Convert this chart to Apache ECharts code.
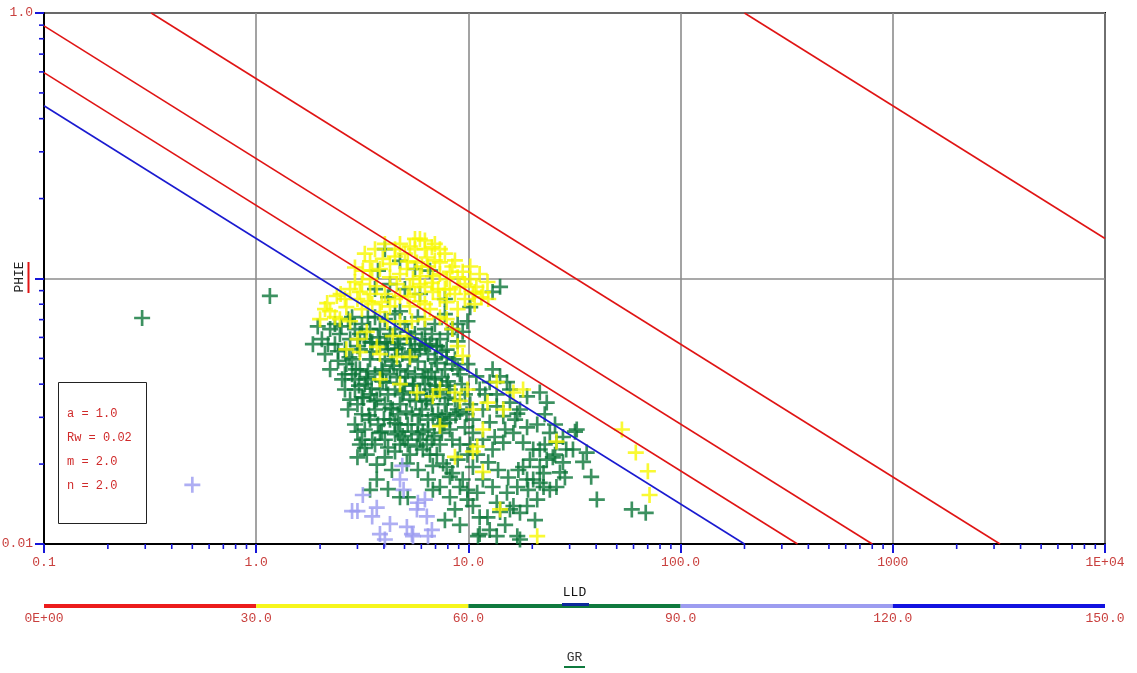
<!DOCTYPE html>
<html>
<head>
<meta charset="utf-8">
<title>Pickett plot – PHIE vs LLD</title>
<script src="https://cdn.jsdelivr.net/npm/echarts@6/dist/echarts.min.js"></script>
<style>
  html, body { margin: 0; padding: 0; background: #fff; }
  #chart { width: 1137px; height: 673px; }
</style>
</head>
<body>
<div id="chart"></div>
<script>
// Archie parameters shown in the parameter box
const paramNames = ['a', 'Rw', 'm', 'n'];
const paramValues = [1.0, 0.02, 2.0, 2.0];

// Water saturation lines (Sw = 1 drawn in blue)
const swValues = [1.0, 0.75, 0.5, 0.25, 0.01];

// Axis ticks and labels
const lldTicks = [0.1, 1, 10, 100, 1000, 10000];
const lldTickLabels = ['0.1', '1.0', '10.0', '100.0', '1000', '1E+04'];
const phieTicks = [0.01, 0.1, 1];
const phieTickLabels = ['0.01', '', '1.0'];
const phieTitle = 'PHIE';

// GR colour scale
const grBreaks = [0, 30, 60, 90, 120, 150];
const grTickLabels = ['0E+00', '30.0', '60.0', '90.0', '120.0', '150.0'];
const grColors = ['#ec1c1c', '#f6f61c', '#0f7a3e', '#9c9cf0', '#1212e0'];

// Samples [LLD, PHIE], grouped by GR class
// GR 60 - 90
const gr60to90 = [
  [0.29,0.071],[1.16,0.086],
  [4.04,0.129],[4.76,0.1165],[3.75,0.107],[4.27,0.0953],[4.18,0.085],[4.76,0.0753],[5.91,0.0874],[6.59,0.107],
  [7.75,0.0837],[7.75,0.0734],[14.1,0.093],[13.0,0.089],[10.2,0.078],[9.9,0.069],[9.4,0.063],[8.9,0.058],
  [7.9,0.054],[8.4,0.0645],[5.6,0.1086],[5.02,0.0912],[3.63,0.0912],
  [1.95,0.066],[1.85,0.0566],[2.04,0.0591],[2.23,0.0645],[2.35,0.0566],[2.11,0.0519],[2.48,0.0618],[2.62,0.0541],
  [2.43,0.049],[2.77,0.0591],[2.92,0.0645],[2.83,0.0496],[2.23,0.0455],[2.62,0.0436],[3.08,0.0541],[3.25,0.0591],
  [3.44,0.0645],[3.63,0.0715],[3.83,0.0645],[3.08,0.0455],[3.44,0.0496],[3.83,0.0566],[4.04,0.0496],[4.27,0.0618],
  [4.51,0.0541],[4.76,0.0591],[5.02,0.0674],[5.30,0.0566],[5.60,0.0618],[5.91,0.0541],[6.24,0.0645],[6.59,0.0566],
  [6.95,0.0496],[7.34,0.0591],[5.30,0.0496],[4.76,0.0455],[4.27,0.0436],[3.63,0.0436],[3.25,0.0400],[2.92,0.0382],
  [2.62,0.0382],[3.0,0.0336],[3.44,0.0366],[3.83,0.0382],[4.51,0.0382],[5.02,0.0400],[5.60,0.0436],[6.24,0.0455],
  [6.95,0.0417],[7.75,0.0455],[8.64,0.0496],[9.12,0.0436],[8.18,0.0382],[7.34,0.0366],[6.59,0.0382],[5.91,0.0366],
  [5.30,0.0350],[4.76,0.0336],[4.04,0.0336],[3.63,0.0321],[3.15,0.0308],[2.92,0.0282],[3.25,0.0270],[3.75,0.0282],
  [4.27,0.0294],[4.76,0.0282],[5.42,0.0308],[6.04,0.0321],[6.73,0.0336],[7.75,0.0336],[8.64,0.0350],[9.63,0.0366],
  [10.2,0.0336],[11.3,0.0382],[12.6,0.0407],[14.1,0.0428],[13.0,0.0455],[15.2,0.0407],[17.5,0.0321],[15.7,0.0341],
  [13.6,0.033],[11.7,0.0321],[21.7,0.0372],[23.4,0.0341],[18.9,0.036],
  [2.71,0.0703],[3.15,0.0674],[4.04,0.0703],[4.51,0.0734],[5.78,0.0715],[6.95,0.0674],[8.0,0.0618],[8.9,0.0674],
  [2.54,0.0417],[2.83,0.0436],[3.36,0.0447],[3.95,0.041],[4.36,0.0487],[5.18,0.0447],[5.78,0.0487],[6.45,0.0519],
  [7.5,0.053],[8.4,0.0476],[9.9,0.0476],[9.3,0.04],[8.0,0.041],[6.24,0.04],[7.2,0.0308],[6.45,0.0294],[5.78,0.0259],
  [5.18,0.0237],[4.65,0.0265],[4.18,0.0231],[3.63,0.0237],[3.15,0.0247],[2.71,0.0321],[2.66,0.0476],[2.43,0.0532],
  [2.18,0.0566],[3.0,0.0556],[3.52,0.053],[4.18,0.0541],[4.88,0.0519],[5.6,0.0541],[3.75,0.06],[4.51,0.0645],
  [5.18,0.063],[6.04,0.0591],[6.73,0.0618],[4.18,0.0366],[4.65,0.0308],[5.18,0.0282],[5.91,0.0247],[6.59,0.0217],
  [7.34,0.0237],[8.18,0.027],[9.12,0.0237],[9.9,0.0217],
  [9.12,0.0314],[7.9,0.031],[10.5,0.0294],[12.6,0.0287],[14.6,0.0303],[17.0,0.031],[18.9,0.0275],[9.63,0.0275],
  [10.5,0.0262],[11.7,0.0247],[8.4,0.0247],[7.5,0.0262],[13.0,0.0227],[14.6,0.0241],[16.3,0.0262],[18.1,0.0241],
  [20.2,0.0227],[18.1,0.0195],[19.5,0.0208],[21.7,0.0195],[23.4,0.0208],[24.2,0.0262],[25.0,0.0212],[22.6,0.0185],
  [21.7,0.017],[24.2,0.016],[21.1,0.0147],[18.9,0.0139],[17.5,0.0131],[15.7,0.0135],[13.6,0.0143],[11.3,0.0126],
  [10.5,0.0139],[9.9,0.0147],[11.0,0.0156],[9.12,0.0164],[8.18,0.0179],[7.9,0.0195],[8.9,0.0208],[10.5,0.0195],
  [11.7,0.0175],[13.0,0.0164],[15.2,0.0156],[17.0,0.0164],[18.9,0.0175],[22.9,0.0237],[26.0,0.0241],[28.9,0.0227],
  [32.4,0.027],[31.1,0.0227],[36.1,0.0221],[34.7,0.0204],[37.9,0.0179],[40.3,0.0147],[27.9,0.0203],[27.0,0.0186],
  [26.0,0.0164],[31.8,0.0265],[58.9,0.0135],[68.5,0.0131],[11.1,0.0107],[13.6,0.0107],[17.0,0.0107],[16.3,0.0139],
  [14.1,0.0132],[12.3,0.0126],[20.2,0.0175],[22.6,0.0164],[17.5,0.0104],[11.3,0.0109],[10.2,0.0237],[11.0,0.0217],
  [12.4,0.0203],[13.8,0.019],[15.4,0.0178],[17.2,0.019],[19.1,0.016],[21.7,0.0227],[25.6,0.0217],[28.5,0.0178],
  [3.7,0.0175],[3.44,0.016],[4.18,0.0161],[4.76,0.015],[5.18,0.015],[6.8,0.016],[6.8,0.0197],[3.0,0.0212],
  [3.32,0.0217],[4.04,0.0212],[5.13,0.0201],[5.72,0.0233],[6.37,0.0237],[7.6,0.0201],[8.4,0.0185],[9.4,0.0175],
  [9.9,0.016],[7.1,0.0217],[4.51,0.0223],[3.08,0.0237],[3.52,0.0247],[4.04,0.0247],[4.51,0.0259],[5.02,0.0247],
  [7.34,0.0282],[8.18,0.0294],[6.45,0.027],[5.78,0.0282],
  [3.3,0.0425],[3.9,0.0455],[4.45,0.047],[5.05,0.0425],[5.5,0.0395],[6.1,0.0425],[6.7,0.0445],[7.1,0.048],
  [3.5,0.0385],[4.1,0.0405],[4.95,0.0375],[5.65,0.0345],[6.3,0.0345],[7.0,0.0395],[7.9,0.0395],[3.2,0.0355],
  [3.05,0.0395],[3.6,0.0345],[4.3,0.0325],[5.1,0.0315],[5.9,0.0305],[6.8,0.0305],[7.7,0.0285],[8.7,0.0305],
  [3.4,0.0305],[4.0,0.0295],[4.5,0.0285],[5.4,0.0265],[6.1,0.0265],[6.9,0.0255],[3.9,0.0265],[4.9,0.0255],
  [2.95,0.0455],[3.45,0.0575],[4.05,0.0575],[4.65,0.0545],[5.35,0.0595],[6.3,0.0555],[7.1,0.0555],[2.75,0.0505],
  [2.35,0.0674],[2.52,0.066],[2.83,0.0715],[3.36,0.0715],[3.08,0.0618],[3.52,0.0575],[4.15,0.0575],[4.65,0.0566],
  [5.42,0.053],[6.24,0.0566],[7.1,0.0556],[7.9,0.0505],[8.9,0.0455],[7.5,0.0425],[6.45,0.0425],[5.48,0.04],
  [4.6,0.0425],[3.95,0.0447],[3.36,0.0417],[2.92,0.0417],[2.77,0.035],[3.15,0.0357],[3.7,0.035],[4.4,0.0321],
  [4.88,0.0366],[6.37,0.035],[7.1,0.0375],[8.0,0.0355],[8.9,0.0321],[9.8,0.0308],[7.5,0.03],[6.73,0.0247],
  [6.1,0.0227],[5.3,0.0217],[4.76,0.0237],[3.83,0.0262],[3.44,0.0294],[3.0,0.0265],[3.25,0.023],[3.7,0.0199],
  [4.36,0.019],[5.78,0.019],[6.45,0.0175],[7.34,0.0164],[8.18,0.015],[8.64,0.0135],[7.75,0.0123],[9.12,0.0118],
  [12.6,0.0113],[14.9,0.0118],[20.6,0.0123],
  [10.9,0.0428],[12.0,0.0366],[13.6,0.0366],[15.7,0.0382],[16.6,0.0294],[14.9,0.027],[13.3,0.0253],[21.1,0.0282],
  [22.9,0.0308],[25.6,0.0282],[27.9,0.0253]
];
// GR 30 - 60
const gr30to60 = [
  [5.91,0.141],[6.73,0.131],[5.30,0.132],[4.76,0.135],[4.51,0.129],[3.95,0.1185],[3.44,0.116],[3.18,0.107],
  [2.92,0.097],[3.08,0.089],[3.36,0.082],[2.4,0.0859],[2.16,0.0808],[2.0,0.0703],[2.66,0.078],[2.77,0.069],
  [3.7,0.0935],[4.27,0.101],[5.13,0.1086],[5.72,0.115],[6.37,0.12],[7.34,0.115],[8.4,0.111],[9.4,0.106],
  [10.2,0.0995],[10.9,0.093],[11.7,0.0888],[11.5,0.085],[10.5,0.0874],[9.12,0.093],[7.9,0.0995],[6.8,0.102],
  [5.91,0.102],[5.30,0.093],[4.76,0.0859],[5.30,0.0785],[5.91,0.082],[6.8,0.089],[7.9,0.0815],[8.9,0.0767],
  [4.27,0.0785],[3.83,0.0748],[4.15,0.0689],[4.76,0.0689],[5.13,0.0607],[3.32,0.0629],[3.0,0.0591],[2.66,0.0541],
  [3.08,0.0528],[3.7,0.0553],[4.6,0.0507],[5.30,0.0507],[7.9,0.0703],[8.4,0.0645],[8.9,0.0556],[9.4,0.0511],
  [5.02,0.124],[5.6,0.129],[6.24,0.129],[4.27,0.1135],[4.76,0.104],[6.45,0.111],[7.34,0.104],[8.18,0.0912],
  [7.2,0.0912],[6.24,0.093],[5.6,0.0874],[3.83,0.1086],[3.44,0.0995],[2.62,0.0837],[2.23,0.0753],[2.48,0.0703],
  [3.15,0.0767],[3.52,0.0801],[4.04,0.0874],[4.6,0.0953],[5.48,0.0995],[9.63,0.0837],[10.7,0.0801],[6.59,0.0767],
  [7.34,0.0715],[6.24,0.0703],[5.42,0.069],[4.4,0.0607],[3.83,0.0519],
  [3.25,0.124],[3.63,0.129],[4.04,0.135],[6.95,0.135],[7.75,0.124],[8.64,0.117],[10.2,0.111],[11.3,0.104],
  [12.3,0.097],[8.9,0.101],[7.75,0.0912],[6.73,0.0963],[5.91,0.0953],[5.18,0.0855],[4.51,0.0837],[3.9,0.0815],
  [3.44,0.0874],[3.0,0.0837],[2.77,0.0912],[2.5,0.0874],[3.15,0.0953],[3.52,0.107],[2.92,0.110],[5.6,0.141],
  [6.24,0.139],[7.34,0.129],[4.51,0.121],[5.18,0.116],[6.04,0.111],[6.95,0.117],[8.18,0.106],[9.63,0.0953],
  [8.64,0.0874],[7.34,0.0837],[6.24,0.0801],[10.7,0.089],[12.4,0.0837],[2.11,0.0767],[2.35,0.0715],
  [4.76,0.04],[5.72,0.0372],[6.8,0.036],[8.64,0.0372],[9.9,0.0382],[9.12,0.0346],[10.5,0.0321],[12.3,0.0341],
  [14.6,0.0321],[16.3,0.0372],[18.1,0.0382],[13.6,0.0407],[7.34,0.0278],[11.7,0.027],[11.0,0.0233],[8.64,0.0213],
  [11.7,0.0187],[10.5,0.0223],[14.1,0.0135],[21.1,0.0107],[26.0,0.0243],[52.9,0.027],[61.5,0.0221],[70.1,0.0188],
  [71.4,0.0153],[3.83,0.0417],[7.34,0.0382]
];
// GR 90 - 120
const gr90to120 = [
  [0.50,0.0167],[3.0,0.0133],[2.83,0.0133],[3.18,0.0153],[3.52,0.0127],[3.7,0.0137],[3.83,0.0109],[4.27,0.0119],
  [4.88,0.0197],[4.95,0.016],[4.76,0.0175],[5.13,0.0116],[5.42,0.0109],[5.78,0.0143],[6.24,0.0147],[6.37,0.0127],
  [6.45,0.0107],[6.73,0.0113],[5.48,0.0107],[5.72,0.0135],[4.04,0.0104]
];

const LABEL_RED = '#c9403e';
const MONO = "'Liberation Mono', 'DejaVu Sans Mono', monospace";
// plus-shaped marker
const PLUS = 'path://M6.25 0h2.5v6.25H15v2.5H8.75V15h-2.5V8.75H0v-2.5h6.25z';

function tickLabel(ticks, labels) {
  return function (v) {
    for (let i = 0; i < ticks.length; i++) {
      if (Math.abs(Math.log10(v) - Math.log10(ticks[i])) < 1e-6) return labels[i];
    }
    return '';
  };
}

// Archie: Rt = a * Rw / (phi^m * Sw^n); clipped to the plot window
function swLine(sw) {
  const [a, rw, m, n] = paramValues;
  const rtAt = phi => a * rw / (Math.pow(phi, m) * Math.pow(sw, n));
  const phiAt = rt => Math.pow(a * rw / (rt * Math.pow(sw, n)), 1 / m);
  const lo = lldTicks[0], hi = lldTicks[lldTicks.length - 1];
  const pMin = phieTicks[0], pMax = phieTicks[phieTicks.length - 1];
  const r0 = Math.max(lo, rtAt(pMax));
  const r1 = Math.min(hi, rtAt(pMin));
  return [[r0, phiAt(r0)], [r1, phiAt(r1)]];
}

// Minor ticks on the log axes (2..9 within each decade)
const lldMinor = [], phieMinor = [];
for (let i = 0; i < lldTicks.length - 1; i++) for (let k = 2; k <= 9; k++) lldMinor.push(lldTicks[i] * k);
for (let i = 0; i < phieTicks.length - 1; i++) for (let k = 2; k <= 9; k++) phieMinor.push(phieTicks[i] * k);

const TICK_BLUE = '#1616d8';

function crossSeries(name, data, color) {
  return {
    name, type: 'scatter', data, symbol: PLUS, symbolSize: 16,
    itemStyle: { color }, xAxisIndex: 0, yAxisIndex: 0, silent: true, z: 3
  };
}

const series = [
  crossSeries('GR 60-90', gr60to90, '#0b7538'),
  crossSeries('GR 30-60', gr30to60, '#f8f800'),
  crossSeries('GR 90-120', gr90to120, '#9a9af0')
];

swValues.forEach(sw => {
  series.push({
    name: 'Sw ' + sw, type: 'line', data: swLine(sw), symbol: 'none', silent: true, z: 5,
    lineStyle: { color: sw === 1 ? '#1a1ad0' : '#e01414', width: 1.6 }
  });
});

series.push({
  name: 'LLD minor ticks', type: 'custom', xAxisIndex: 0, yAxisIndex: 0, clip: false, silent: true, z: 6,
  data: lldMinor.map(v => [v, phieTicks[0]]),
  renderItem: (params, api) => {
    const p = api.coord([api.value(0), api.value(1)]);
    return { type: 'line', shape: { x1: p[0], y1: p[1], x2: p[0], y2: p[1] + 5 },
             style: { stroke: TICK_BLUE, lineWidth: 1.6 } };
  }
});
series.push({
  name: 'PHIE minor ticks', type: 'custom', xAxisIndex: 0, yAxisIndex: 0, clip: false, silent: true, z: 6,
  data: phieMinor.map(v => [lldTicks[0], v]),
  renderItem: (params, api) => {
    const p = api.coord([api.value(0), api.value(1)]);
    return { type: 'line', shape: { x1: p[0] - 5, y1: p[1], x2: p[0], y2: p[1] },
             style: { stroke: TICK_BLUE, lineWidth: 1.6 } };
  }
});
series.push({
  name: 'GR scale', type: 'custom', xAxisIndex: 1, yAxisIndex: 1, silent: true, clip: false,
  data: grColors.map((c, i) => [grBreaks[i], grBreaks[i + 1]]),
  renderItem: (params, api) => {
    const p0 = api.coord([api.value(0), 0]);
    const p1 = api.coord([api.value(1), 1]);
    return { type: 'rect', shape: { x: p0[0], y: p1[1], width: p1[0] - p0[0], height: p0[1] - p1[1] },
             style: { fill: grColors[params.dataIndex] } };
  }
});

const paramText = paramNames.map((nm, i) => {
  const v = paramValues[i];
  return nm + ' = ' + (v < 0.1 ? String(v) : v.toFixed(1));
});

const chart = echarts.init(document.getElementById('chart'));
chart.setOption({
  animation: false,
  backgroundColor: '#fff',
  grid: [
    { left: 44, right: 32, top: 13, bottom: 129, show: true, borderColor: '#000', borderWidth: 2,
      backgroundColor: 'transparent', containLabel: false, outerBoundsMode: 'none' },
    { left: 44, right: 32, top: 604, height: 4, containLabel: false, outerBoundsMode: 'none' }
  ],
  xAxis: [
    {
      type: 'log', logBase: 10, min: lldTicks[0], max: lldTicks[lldTicks.length - 1], gridIndex: 0,
      name: 'LLD', nameLocation: 'middle', nameGap: 42,
      nameTextStyle: { color: '#111', fontFamily: MONO, fontSize: 13 },
      axisLine: { lineStyle: { color: '#000', width: 2 } },
      axisTick: { length: 9, lineStyle: { color: TICK_BLUE, width: 2 } },
      axisLabel: { color: LABEL_RED, fontFamily: MONO, fontSize: 13, margin: 12,
                   formatter: tickLabel(lldTicks, lldTickLabels), showMinLabel: true, showMaxLabel: true },
      splitLine: { show: true, lineStyle: { color: '#8c8c8c', width: 1.6 } }
    },
    {
      type: 'value', gridIndex: 1, min: grBreaks[0], max: grBreaks[grBreaks.length - 1], interval: 30,
      name: 'GR', nameLocation: 'middle', nameGap: 43,
      nameTextStyle: { color: '#333', fontFamily: MONO, fontSize: 13 },
      axisLine: { show: false }, axisTick: { show: false }, splitLine: { show: false },
      axisLabel: { color: LABEL_RED, fontFamily: MONO, fontSize: 13, margin: 4,
                   formatter: v => grTickLabels[grBreaks.indexOf(v)] || '' }
    }
  ],
  yAxis: [
    {
      type: 'log', logBase: 10, min: phieTicks[0], max: phieTicks[phieTicks.length - 1], gridIndex: 0,
      axisLine: { lineStyle: { color: '#000', width: 2 } },
      axisTick: { length: 9, lineStyle: { color: TICK_BLUE, width: 2 } },
      axisLabel: { color: LABEL_RED, fontFamily: MONO, fontSize: 13, margin: 11,
                   formatter: tickLabel(phieTicks, phieTickLabels) },
      splitLine: { show: true, lineStyle: { color: '#8c8c8c', width: 1.6 } }
    },
    { type: 'value', gridIndex: 1, min: 0, max: 1, show: false }
  ],
  graphic: [
    { type: 'text', z: 100, x: 20, y: 277, rotation: Math.PI / 2,
      style: { text: phieTitle, fill: '#222', font: "13px 'Liberation Mono', monospace", align: 'center', verticalAlign: 'middle' } },
    { type: 'line', z: 100, shape: { x1: 28.5, y1: 262, x2: 28.5, y2: 293 }, style: { stroke: '#e01414', lineWidth: 2 } },
    { type: 'line', z: 100, shape: { x1: 562, y1: 604.5, x2: 589, y2: 604.5 }, style: { stroke: '#0c2a9c', lineWidth: 3 } },
    { type: 'line', z: 100, shape: { x1: 564, y1: 667, x2: 585, y2: 667 }, style: { stroke: '#0f7a3e', lineWidth: 2 } },
    { type: 'rect', z: 100, shape: { x: 58.5, y: 382.5, width: 88, height: 141 }, style: { fill: '#fff', stroke: '#222', lineWidth: 1 } },
    ...paramText.map((t, i) => ({
      type: 'text', z: 101, left: 67, top: 408 + i * 24,
      style: { text: t, fill: '#d02a2a', font: "12px 'Liberation Mono', monospace" }
    }))
  ],
  series
});
</script>
</body>
</html>
